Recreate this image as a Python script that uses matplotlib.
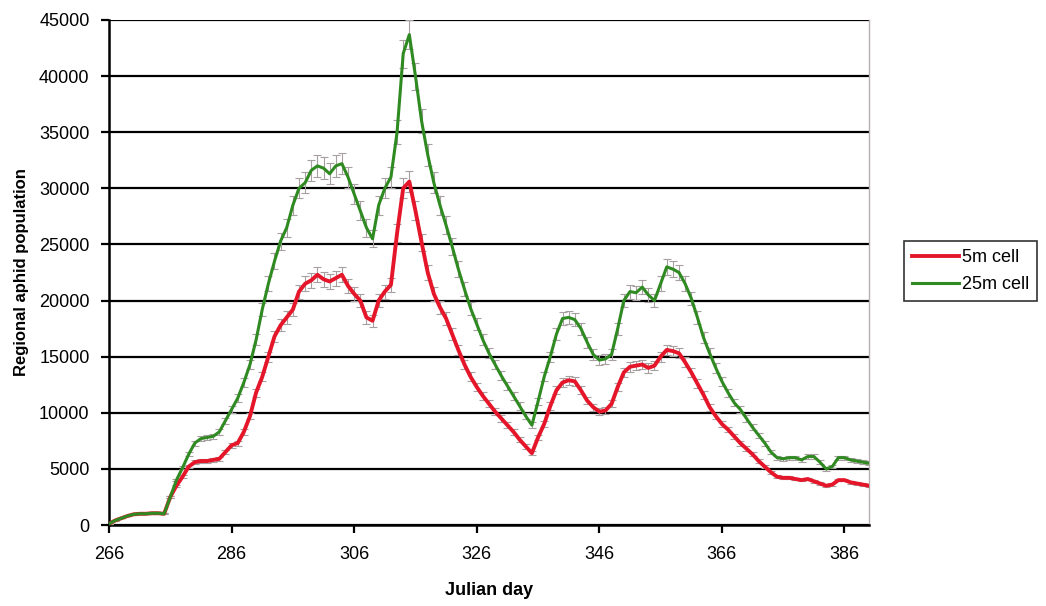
import matplotlib
matplotlib.use("Agg")
import matplotlib.pyplot as plt
import numpy as np

plt.rcParams['font.family'] = ['Liberation Sans', 'DejaVu Sans']

days = list(range(266, 391))

cell_25m = [100, 400, 600, 800, 950, 1000, 1000, 1050, 1050, 1000,          # 266-275
            2500, 4000, 5100, 6300, 7300, 7700, 7800, 7900, 8300, 9300,     # 276-285
            10300, 11300, 12700, 14300, 16500, 19200, 21500, 23500, 25300, 26500,  # 286-295
            28500, 30000, 30500, 31600, 32000, 31800, 31300, 32000, 32200, 31000,  # 296-305
            29500, 28000, 26500, 25500, 28500, 30000, 31000, 35000, 42000, 43700,  # 306-315
            40000, 36000, 33000, 30500, 28500, 26700, 24800, 22800, 21000, 19300,  # 316-325
            17900, 16500, 15300, 14300, 13300, 12400, 11500, 10600, 9700, 8900,    # 326-335
            11000, 13200, 15000, 17000, 18400, 18500, 18300, 17500, 16300, 15200,  # 336-345
            14700, 14800, 15200, 17500, 20000, 20800, 20700, 21200, 20500, 20000,  # 346-355
            21500, 23000, 22800, 22500, 21500, 20200, 18500, 16700, 15300, 14000,  # 356-365
            12800, 11800, 10900, 10300, 9500, 8700, 8000, 7300, 6500, 6000,       # 366-375
            5900, 6000, 6000, 5800, 6100, 6100, 5600, 5000, 5200, 6000,           # 376-385
            6000, 5800, 5700, 5600, 5500]                                          # 386-390

cell_5m = [100, 400, 600, 800, 950, 1000, 1000, 1050, 1050, 1000,            # 266-275
           2500, 3500, 4300, 5200, 5600, 5700, 5700, 5800, 5900, 6500,        # 276-285
           7100, 7300, 8300, 9700, 11800, 13200, 15000, 16800, 17800, 18500,  # 286-295
           19200, 20800, 21500, 21800, 22300, 21900, 21700, 22000, 22300, 21300,  # 296-305
           20600, 20000, 18500, 18200, 20000, 20800, 21400, 26000, 30000, 30600,  # 306-315
           28000, 25200, 22500, 20600, 19400, 18400, 17000, 15600, 14300, 13200,  # 316-325
           12300, 11500, 10800, 10100, 9500, 8900, 8300, 7600, 7000, 6400,       # 326-335
           7800, 9000, 10600, 12000, 12700, 12900, 12800, 12000, 11100, 10500,   # 336-345
           10100, 10200, 10800, 12300, 13600, 14100, 14200, 14300, 14000, 14200, # 346-355
           15000, 15600, 15500, 15300, 14500, 13600, 12600, 11600, 10500, 9700,  # 356-365
           9000, 8500, 7900, 7300, 6800, 6300, 5700, 5200, 4700, 4300,           # 366-375
           4200, 4200, 4100, 4000, 4100, 3900, 3700, 3500, 3600, 4000,           # 376-385
           4000, 3800, 3700, 3600, 3500]                                          # 386-390

x_ticks = [266, 286, 306, 326, 346, 366, 386]
y_ticks = [0, 5000, 10000, 15000, 20000, 25000, 30000, 35000, 40000, 45000]
err_frac = 0.03

fig = plt.figure(figsize=(10.46, 6.06), dpi=100)
ax = fig.add_axes([109/1046, 1-525/606, (869-109)/1046, (525-20)/606])

d = np.array(days)
g = np.array(cell_25m)
r = np.array(cell_5m)

ax.errorbar(d, r, yerr=r*err_frac, fmt='none', ecolor='#a8a0a0', elinewidth=0.8,
            capsize=3, capthick=0.8, zorder=3)
ax.errorbar(d, g, yerr=g*err_frac, fmt='none', ecolor='#a8a0a0', elinewidth=0.8,
            capsize=3, capthick=0.8, zorder=3)
ax.plot(d, r, color='#e5162a', lw=2.8, label='5m cell', zorder=4)
ax.plot(d, g, color='#2f8a22', lw=2.2, label='25m cell', zorder=4)

ax.set_xlim(266, 390)
ax.set_ylim(0, 45000)
ax.set_xticks(x_ticks)
ax.set_yticks(y_ticks)
ax.yaxis.grid(True, color='black', lw=1.6)
ax.set_axisbelow(True)

for s in ['left', 'bottom']:
    ax.spines[s].set_linewidth(1.8)
    ax.spines[s].set_color('black')
ax.spines['top'].set_visible(False)
ax.spines['right'].set_color('#b8b0b0')
ax.spines['right'].set_linewidth(1.0)

ax.tick_params(axis='x', direction='out', length=6, width=1.6, labelsize=13, pad=9)
ax.tick_params(axis='y', direction='out', length=6, width=1.6, labelsize=13, pad=8)

ax.set_xlabel('Julian day', fontsize=13, fontweight='bold', labelpad=14)
ax.set_ylabel('Regional aphid population', fontsize=12, fontweight='bold', labelpad=7)

leg = fig.legend(loc='upper left', bbox_to_anchor=(904/1046, 1-241/606), fontsize=13,
                 frameon=True, fancybox=False, edgecolor='black', handlelength=2.6,
                 borderpad=0.45, labelspacing=0.55, handletextpad=0.15,
                 borderaxespad=0)
leg.get_frame().set_linewidth(1.2)

fig.savefig('out.png', dpi=100)
